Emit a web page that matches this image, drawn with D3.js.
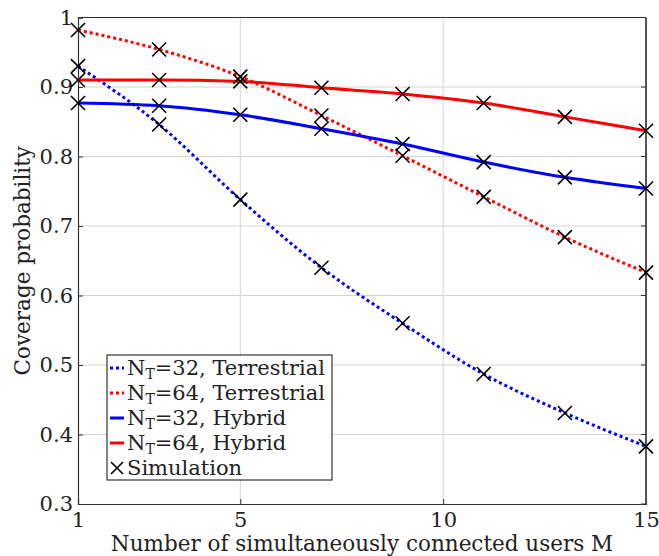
<!DOCTYPE html>
<html>
<head>
<meta charset="utf-8">
<script src="https://cdn.jsdelivr.net/npm/d3@7"></script>
<style>
  body { margin: 0; background: #fff; }
</style>
</head>
<body>
<div id="chart"></div>
<script>
// data
const users = [1, 3, 5, 7, 9, 11, 13, 15];
const terrestrial32 = [0.930, 0.846, 0.738, 0.640, 0.560, 0.487, 0.431, 0.383];
const terrestrial64 = [0.982, 0.954, 0.915, 0.859, 0.801, 0.742, 0.684, 0.633];
const hybrid32 = [0.877, 0.873, 0.860, 0.840, 0.818, 0.792, 0.770, 0.754];
const hybrid64 = [0.910, 0.910, 0.908, 0.899, 0.890, 0.877, 0.857, 0.837];
const xTicks = [1, 5, 10, 15];
const yTicks = [0.3, 0.4, 0.5, 0.6, 0.7, 0.8, 0.9, 1];

const series = [
    { label: '32', kind: 'Terrestrial', values: terrestrial32, color: '#0000ff', dash: '3,3' },
    { label: '64', kind: 'Terrestrial', values: terrestrial64, color: '#ff0000', dash: '3,3' },
    { label: '32', kind: 'Hybrid', values: hybrid32, color: '#0000ff', dash: null },
    { label: '64', kind: 'Hybrid', values: hybrid64, color: '#ff0000', dash: null }
];

const fontFamily = '"DejaVu Serif", serif';
const textColor = '#222';

const svgWidth = 659;
const svgHeight = 556;
const margin = { left: 78, right: 13, top: 17.5, bottom: 52 };

const svg = d3.select('#chart')
    .append('svg')
    .attr('width', svgWidth)
    .attr('height', svgHeight)
    .attr('font-family', fontFamily);

const x = d3.scaleLinear()
    .domain([1, 15])
    .range([margin.left, svgWidth - margin.right]);

const y = d3.scaleLinear()
    .domain([0.3, 1])
    .range([svgHeight - margin.bottom, margin.top]);

// grid
svg.append('g')
    .selectAll('line')
    .data(xTicks.slice(1, -1))
    .join('line')
    .attr('x1', d => x(d)).attr('x2', d => x(d))
    .attr('y1', y(0.3)).attr('y2', y(1))
    .attr('stroke', '#d4d4d4')
    .attr('stroke-width', 1);

svg.append('g')
    .selectAll('line')
    .data(yTicks.slice(1, -1))
    .join('line')
    .attr('x1', x(1)).attr('x2', x(15))
    .attr('y1', d => y(d)).attr('y2', d => y(d))
    .attr('stroke', '#d4d4d4')
    .attr('stroke-width', 1);

// axes
const xAxis = svg.append('g')
    .attr('transform', `translate(0, ${y(0.3)})`)
    .call(d3.axisBottom(x).tickValues(xTicks).tickSize(-5).tickPadding(8).tickFormat(d3.format('d')));

const yAxis = svg.append('g')
    .attr('transform', `translate(${x(1)}, 0)`)
    .call(d3.axisLeft(y).tickValues(yTicks).tickSize(-5).tickPadding(5).tickFormat(d => d === 1 ? '1' : d3.format('.1f')(d)));

[xAxis, yAxis].forEach(axis => {
    axis.attr('font-family', fontFamily);
    axis.select('.domain').attr('stroke', '#333').attr('stroke-width', 1.2);
    axis.selectAll('.tick line').attr('stroke', '#333');
    axis.selectAll('.tick text')
        .attr('font-size', 21)
        .attr('fill', textColor);
});

// top/right frame with inner ticks on the right
svg.append('line')
    .attr('x1', x(1)).attr('x2', x(15))
    .attr('y1', y(1)).attr('y2', y(1))
    .attr('stroke', '#333').attr('stroke-width', 1.2);
svg.append('line')
    .attr('x1', x(15)).attr('x2', x(15))
    .attr('y1', y(1)).attr('y2', y(0.3))
    .attr('stroke', '#555').attr('stroke-width', 2);
svg.append('g')
    .selectAll('line')
    .data(yTicks)
    .join('line')
    .attr('x1', x(15) - 5).attr('x2', x(15))
    .attr('y1', d => y(d)).attr('y2', d => y(d))
    .attr('stroke', '#333');

// curves
const line = d3.line()
    .x((d, i) => x(users[i]))
    .y(d => y(d))
    .curve(d3.curveMonotoneX);

series.forEach(s => {
    svg.append('path')
        .attr('d', line(s.values))
        .attr('fill', 'none')
        .attr('stroke', s.color)
        .attr('stroke-width', 3)
        .attr('stroke-dasharray', s.dash);
});

// simulation markers
const markerSize = 7;
function crossPath(cx, cy, r) {
    return `M${cx - r},${cy - r}L${cx + r},${cy + r}M${cx - r},${cy + r}L${cx + r},${cy - r}`;
}
series.forEach(s => {
    svg.append('g')
        .selectAll('path')
        .data(s.values)
        .join('path')
        .attr('d', (d, i) => crossPath(x(users[i]), y(d), markerSize))
        .attr('stroke', '#000')
        .attr('stroke-width', 1.6)
        .attr('fill', 'none');
});

// axis labels
svg.append('text')
    .attr('x', (x(1) + x(15)) / 2)
    .attr('y', 551)
    .attr('text-anchor', 'middle')
    .attr('font-size', 21.5)
    .attr('fill', textColor)
    .text('Number of simultaneously connected users M');

svg.append('text')
    .attr('transform', `translate(30, ${(y(0.3) + y(1)) / 2}) rotate(-90)`)
    .attr('text-anchor', 'middle')
    .attr('font-size', 21.5)
    .attr('fill', textColor)
    .text('Coverage probability');

// legend
const legend = svg.append('g')
    .attr('transform', 'translate(107, 355)');

legend.append('rect')
    .attr('width', 225)
    .attr('height', 125)
    .attr('fill', '#fff')
    .attr('stroke', '#333')
    .attr('stroke-width', 1.2);

const rowHeight = 25;
series.forEach((s, i) => {
    const rowY = 13 + i * rowHeight;
    legend.append('line')
        .attr('x1', 3).attr('x2', 17)
        .attr('y1', rowY).attr('y2', rowY)
        .attr('stroke', s.color)
        .attr('stroke-width', 3)
        .attr('stroke-dasharray', s.dash);

    const label = legend.append('text')
        .attr('x', 20)
        .attr('y', rowY + 7)
        .attr('font-size', 21)
        .attr('fill', textColor);
    label.append('tspan').text('N');
    label.append('tspan').attr('font-size', 14).attr('dy', 4).text('T');
    label.append('tspan').attr('dy', -4).text(`=${s.label}, ${s.kind}`);
});

const simY = 13 + 4 * rowHeight;
legend.append('path')
    .attr('d', crossPath(10, simY, 6))
    .attr('stroke', '#000')
    .attr('stroke-width', 1.6);
legend.append('text')
    .attr('x', 20)
    .attr('y', simY + 7)
    .attr('font-size', 21)
    .attr('fill', textColor)
    .text('Simulation');
</script>
</body>
</html>
